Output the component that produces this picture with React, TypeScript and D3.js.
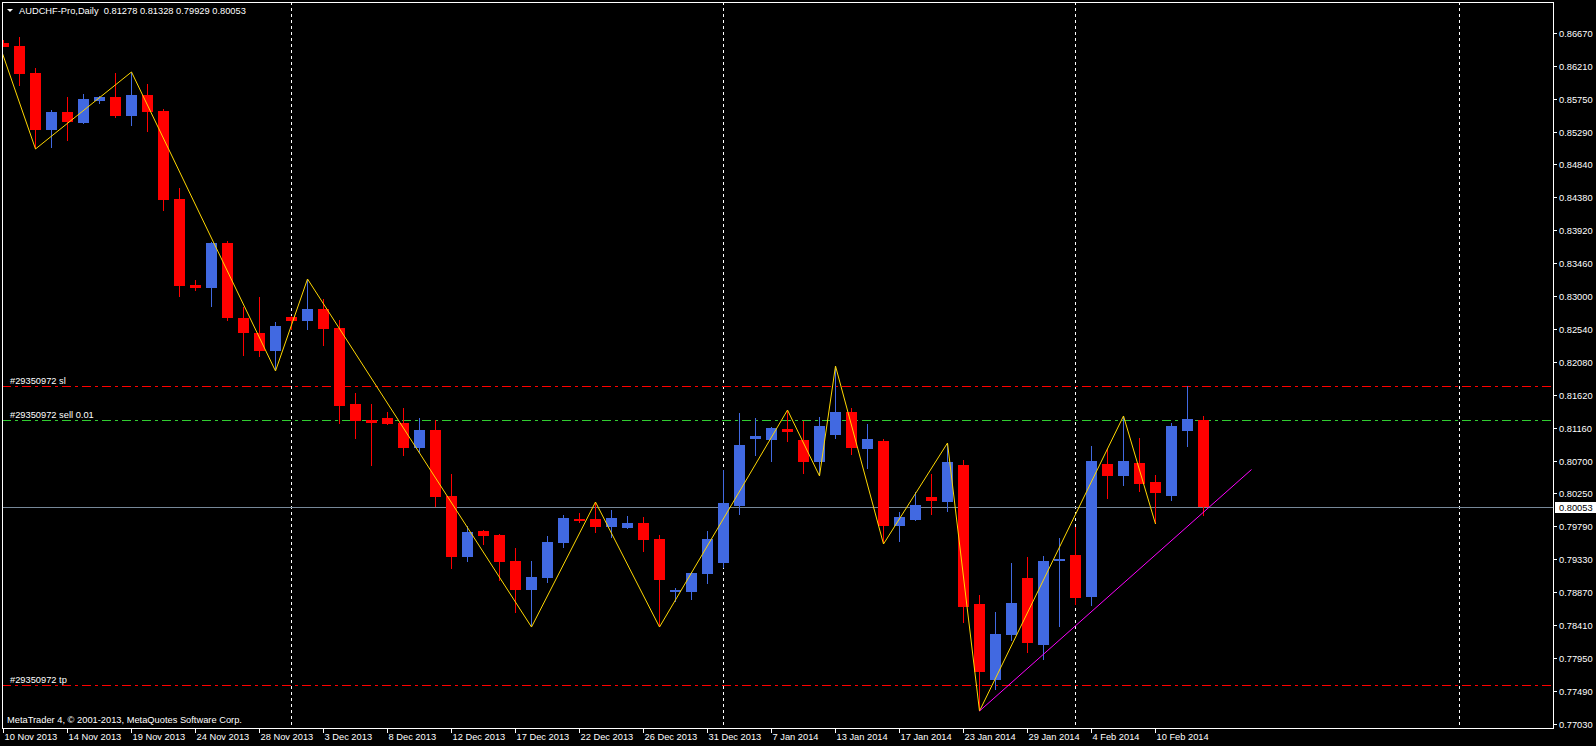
import React from "react";
import * as d3 from "d3";

// ---------- DATA ----------
const openP = [
  0.86531, 0.86489, 0.86112, 0.85317, 0.85568, 0.85414, 0.85721, 0.85777, 0.85512, 0.85805,
  0.85582, 0.84354, 0.83154, 0.83113, 0.8374, 0.82694, 0.82485, 0.82234, 0.82708, 0.82652,
  0.8282, 0.82555, 0.81494, 0.81271, 0.81299, 0.81229, 0.8088, 0.81132, 0.80211, 0.7936,
  0.79722, 0.79667, 0.79304, 0.78899, 0.79067, 0.79555, 0.7989, 0.7989, 0.79778, 0.79764,
  0.79834, 0.79611, 0.78871, 0.78871, 0.79123, 0.79276, 0.80071, 0.81006, 0.80992, 0.81145,
  0.80992, 0.80685, 0.81062, 0.81383, 0.80866, 0.80978, 0.79792, 0.79876, 0.80197, 0.80127,
  0.80643, 0.78704, 0.77644, 0.78272, 0.79067, 0.78132, 0.79304, 0.79388, 0.78802, 0.80657,
  0.8049, 0.80671, 0.80406, 0.80211, 0.81118, 0.81278,
];
const highP = [
  0.86572, 0.86614, 0.86182, 0.85596, 0.85777, 0.85819, 0.85791, 0.86112, 0.86126, 0.85959,
  0.8561, 0.84508, 0.83224, 0.83754, 0.83768, 0.82847, 0.82987, 0.82638, 0.8272, 0.83238,
  0.82959, 0.82666, 0.81648, 0.81494, 0.81383, 0.81438, 0.81299, 0.81271, 0.80518, 0.79792,
  0.79736, 0.7968, 0.79485, 0.79304, 0.79653, 0.79946, 0.79974, 0.80127, 0.80015, 0.79932,
  0.79918, 0.79667, 0.78927, 0.7915, 0.79722, 0.80573, 0.81369, 0.81299, 0.81173, 0.8141,
  0.81257, 0.81313, 0.82024, 0.81438, 0.81215, 0.81006, 0.79987, 0.80267, 0.80518, 0.8095,
  0.80713, 0.7883, 0.78592, 0.79276, 0.7936, 0.79374, 0.79625, 0.79778, 0.80908, 0.80866,
  0.81327, 0.8102, 0.80504, 0.81229, 0.81745, 0.81328,
];
const lowP = [
  0.8647, 0.85931, 0.85052, 0.85066, 0.85163, 0.854, 0.8568, 0.85484, 0.85373, 0.85289,
  0.84187, 0.82987, 0.83071, 0.82847, 0.82652, 0.82164, 0.8215, 0.81955, 0.82527, 0.82527,
  0.82303, 0.81215, 0.81006, 0.80629, 0.81201, 0.80769, 0.80811, 0.80057, 0.79192, 0.7929,
  0.79527, 0.79025, 0.78578, 0.78383, 0.78997, 0.79485, 0.79834, 0.79695, 0.79625, 0.7975,
  0.79429, 0.78383, 0.78732, 0.7876, 0.78983, 0.79206, 0.79946, 0.80769, 0.80685, 0.80964,
  0.80518, 0.8049, 0.81006, 0.80783, 0.80587, 0.79541, 0.79569, 0.79862, 0.79946, 0.79987,
  0.78439, 0.77211, 0.77504, 0.78188, 0.7802, 0.77923, 0.78383, 0.7869, 0.78676, 0.80169,
  0.8035, 0.80267, 0.7982, 0.80141, 0.80894, 0.79929,
];
const closeP = [
  0.86475, 0.86098, 0.85317, 0.85568, 0.85428, 0.85749, 0.85777, 0.85512, 0.85805, 0.85568,
  0.8434, 0.8314, 0.83113, 0.8374, 0.82694, 0.82485, 0.82234, 0.82582, 0.82652, 0.8282,
  0.82541, 0.81466, 0.81257, 0.81229, 0.81215, 0.8088, 0.81132, 0.80197, 0.7936, 0.79708,
  0.79653, 0.7929, 0.78899, 0.79081, 0.79569, 0.79904, 0.79862, 0.79778, 0.79904, 0.79834,
  0.79597, 0.79039, 0.78899, 0.79136, 0.79611, 0.80113, 0.80922, 0.81048, 0.81159, 0.81104,
  0.80685, 0.81187, 0.81383, 0.8088, 0.81006, 0.79792, 0.79918, 0.80085, 0.80141, 0.80685,
  0.78662, 0.77755, 0.78285, 0.78718, 0.7816, 0.79304, 0.79332, 0.78788, 0.80699, 0.8049,
  0.80699, 0.80378, 0.80253, 0.81187, 0.81285, 0.80053,
];

const zigzagBars = [-1, 2, 8, 17, 19, 33, 37, 41, 49, 51, 52, 55, 59, 61, 70, 72];
const zigzagPrices = [
  0.86987, 0.85052, 0.86126, 0.81955, 0.83238, 0.78383, 0.80127, 0.78383, 0.8141, 0.8049,
  0.82024, 0.79541, 0.8095, 0.77211, 0.81327, 0.7982,
];

const trendBars = [61, 78];
const trendPrices = [0.77211, 0.8058];

const xLabels = [
  "10 Nov 2013", "14 Nov 2013", "19 Nov 2013", "24 Nov 2013", "28 Nov 2013", "3 Dec 2013",
  "8 Dec 2013", "12 Dec 2013", "17 Dec 2013", "22 Dec 2013", "26 Dec 2013", "31 Dec 2013",
  "7 Jan 2014", "13 Jan 2014", "17 Jan 2014", "23 Jan 2014", "29 Jan 2014", "4 Feb 2014",
  "10 Feb 2014",
];
const xLabelStep = 4;

const monthSeparatorBars = [18, 45, 67, 91];

const yTicks = [
  "0.86670", "0.86210", "0.85750", "0.85290", "0.84840", "0.84380", "0.83920", "0.83460",
  "0.83000", "0.82540", "0.82080", "0.81620", "0.81160", "0.80700", "0.80250", "0.79790",
  "0.79330", "0.78870", "0.78410", "0.77950", "0.77490", "0.77030",
];

const slPrice = 0.81745;
const sellPrice = 0.81267;
const tpPrice = 0.77574;
const bidPrice = 0.80053;
const orderId = "#29350972";

const titleText = "AUDCHF-Pro,Daily  0.81278 0.81328 0.79929 0.80053";
const copyrightText = "MetaTrader 4, \u00A9 2001-2013, MetaQuotes Software Corp.";

// ---------- LAYOUT ----------
const W = 1596;
const H = 746;
const L = 2;
const R = 1553;
const T = 2;
const B = 728;
const FONT = "'Liberation Sans', Arial, sans-serif";
const FS = 9.3;
const BULL = "#4169E1";
const BEAR = "#FF0000";

export default function App() {
  const x = d3.scaleLinear().domain([0, 75]).range([3, 1203]);
  const y = d3.scaleLinear().domain([0.7703, 0.8667]).range([724, 33]);
  const py = (p: number) => Math.round(y(p)) + 0.5;

  const zz = d3
    .line<number>()
    .x((_, i) => x(zigzagBars[i]) + 0.5)
    .y((_, i) => y(zigzagPrices[i]));
  const tl = d3
    .line<number>()
    .x((_, i) => x(trendBars[i]) + 0.5)
    .y((_, i) => y(trendPrices[i]));

  const levelLine = (p: number, color: string, dash: string | undefined, key: string) => (
    <line key={key} x1={L} x2={R} y1={py(p)} y2={py(p)} stroke={color} strokeWidth={1} strokeDasharray={dash} />
  );

  return (
    <svg
      width={W}
      height={H}
      style={{ position: "absolute", left: 0, top: 0, background: "#000", display: "block" }}
      fontFamily={FONT}
    >
      <rect x={0} y={0} width={W} height={H} fill="#000" />
      <defs>
        <clipPath id="plot">
          <rect x={L + 1} y={T + 1} width={R - L - 1} height={B - T - 1} />
        </clipPath>
      </defs>

      {/* month separators */}
      <g shapeRendering="crispEdges">
        {monthSeparatorBars.map((b) => (
          <line key={b} x1={x(b) + 0.5} x2={x(b) + 0.5} y1={T} y2={B} stroke="#fff" strokeDasharray="3,3" />
        ))}
      </g>

      {/* level lines */}
      <g shapeRendering="crispEdges">
        {levelLine(bidPrice, "#778899", undefined, "bid")}
        {levelLine(slPrice, "#FF0000", "9,4,3,4", "sl")}
        {levelLine(sellPrice, "#32CD32", "9,4,3,4", "sell")}
        {levelLine(tpPrice, "#FF0000", "9,4,3,4", "tp")}
      </g>
      <g fill="#fff" fontSize={FS}>
        <text x={10} y={py(slPrice) - 3}>{orderId + " sl"}</text>
        <text x={10} y={py(sellPrice) - 3}>{orderId + " sell 0.01"}</text>
        <text x={10} y={py(tpPrice) - 3}>{orderId + " tp"}</text>
      </g>

      {/* candles */}
      <g clipPath="url(#plot)" shapeRendering="crispEdges">
        {openP.map((o, i) => {
          const c = closeP[i];
          const bull = c >= o;
          const col = bull ? BULL : BEAR;
          const cx = Math.round(x(i));
          const top = Math.round(y(Math.max(o, c)));
          const bot = Math.round(y(Math.min(o, c)));
          return (
            <g key={i}>
              <rect x={cx} y={Math.round(y(highP[i]))} width={1} height={Math.max(1, Math.round(y(lowP[i])) - Math.round(y(highP[i])))} fill={col} />
              <rect x={cx - 5} y={top} width={11} height={Math.max(2, bot - top)} fill={col} />
            </g>
          );
        })}
      </g>

      {/* zigzag and trend line */}
      <g clipPath="url(#plot)">
        <path d={zz(zigzagPrices) || ""} fill="none" stroke="#FFD700" strokeWidth={1} />
        <path d={tl(trendPrices) || ""} fill="none" stroke="#FF00FF" strokeWidth={1} />
      </g>

      {/* frame */}
      <g shapeRendering="crispEdges" stroke="#fff" fill="none">
        <rect x={L + 0.5} y={T + 0.5} width={R - L} height={B - T} />
      </g>

      {/* title */}
      <path d="M7,9 L13,9 L10,12 Z" fill="#fff" />
      <text x={19} y={14} fill="#fff" fontSize={FS} xmlSpace="preserve" style={{ whiteSpace: "pre" }}>
        {titleText}
      </text>
      <text x={7} y={723} fill="#fff" fontSize={FS}>
        {copyrightText}
      </text>

      {/* right axis */}
      <g fontSize={FS} fill="#fff">
        {yTicks.map((t) => {
          const yy = py(+t);
          return (
            <g key={t}>
              <line x1={R} x2={R + 4} y1={yy} y2={yy} stroke="#fff" shapeRendering="crispEdges" />
              <text x={1559} y={yy + 3.5}>{t}</text>
            </g>
          );
        })}
        <rect x={1555} y={py(bidPrice) - 5.5} width={41} height={11} fill="#fff" shapeRendering="crispEdges" />
        <text x={1559} y={py(bidPrice) + 3.5} fill="#000">
          {bidPrice.toFixed(5)}
        </text>
      </g>

      {/* bottom axis */}
      <g fontSize={FS} fill="#fff">
        {xLabels.map((lab, k) => {
          const cx = Math.round(x(k * xLabelStep)) + 0.5;
          return (
            <g key={lab}>
              <line x1={cx} x2={cx} y1={B} y2={B + 5} stroke="#fff" shapeRendering="crispEdges" />
              <text x={cx + 1} y={740}>{lab}</text>
            </g>
          );
        })}
      </g>
    </svg>
  );
}
